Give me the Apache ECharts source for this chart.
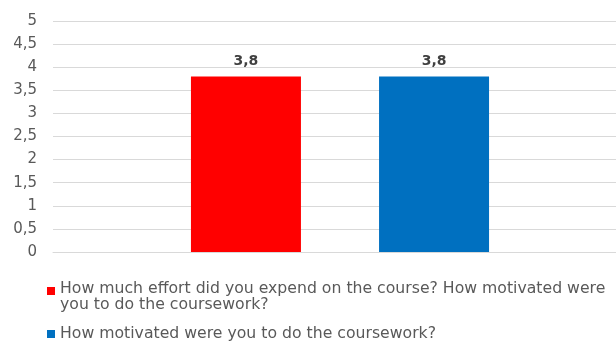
<!DOCTYPE html>
<html>
<head>
<meta charset="utf-8">
<script src="https://cdn.jsdelivr.net/npm/echarts@6/dist/echarts.min.js"></script>
<style>
html,body{margin:0;padding:0;background:#fff;overflow:hidden;width:616px;height:344px;}
#chart{width:627px;height:344px;}
</style>
</head>
<body>
<div id="chart"></div>
<script>
const categories = [''];
const seriesNames = [
  'How much effort did you expend on the course? How motivated were you to do the coursework?',
  'How motivated were you to do the coursework?'
];
const legendLabels = [
  'How much effort did you expend on the course? How motivated were\nyou to do the coursework?',
  'How motivated were you to do the coursework?'
];
const effortValues = [3.8];
const motivationValues = [3.8];
const yTicks = { min: 0, max: 5, interval: 0.5 };

const FONT = 'DejaVu Sans';
const comma = v => String(v).replace('.', ',');
const legendText = { color: '#595959', fontFamily: FONT, fontSize: 15.7, lineHeight: 16 };

const chart = echarts.init(document.getElementById('chart'), null, { renderer: 'canvas' });
chart.setOption({
  animation: false,
  backgroundColor: '#ffffff',
  grid: { left: 53, top: 21, right: 0, bottom: 92, containLabel: false },
  xAxis: {
    type: 'category',
    data: categories,
    axisLine: { show: true, lineStyle: { color: '#d9d9d9', width: 1 } },
    axisTick: { show: false },
    axisLabel: { show: false }
  },
  yAxis: {
    type: 'value',
    min: yTicks.min,
    max: yTicks.max,
    interval: yTicks.interval,
    axisLine: { show: false },
    axisTick: { show: false },
    splitLine: { lineStyle: { color: '#d9d9d9', width: 1 } },
    axisLabel: {
      margin: 16,
      color: '#595959',
      fontFamily: FONT,
      fontSize: 15,
      formatter: v => comma(v)
    }
  },
  legend: [
    {
      orient: 'vertical',
      left: 47,
      top: 281,
      padding: 0,
      itemWidth: 8,
      itemHeight: 32,
      textStyle: legendText,
      formatter: name => legendLabels[seriesNames.indexOf(name)],
      data: [{ name: seriesNames[0], icon: 'path://M0,6L8,6L8,14L0,14Z M0,0L0.01,0 M0,32L0.01,32' }]
    },
    {
      orient: 'vertical',
      left: 47,
      top: 326,
      padding: 0,
      itemWidth: 8,
      itemHeight: 8,
      textStyle: legendText,
      formatter: name => legendLabels[seriesNames.indexOf(name)],
      data: [{ name: seriesNames[1], icon: 'rect' }]
    }
  ],
  series: [
    {
      name: seriesNames[0],
      type: 'bar',
      data: effortValues,
      barWidth: 110,
      barGap: '71%',
      itemStyle: { color: '#ff0000' },
      label: {
        show: true, position: 'top', distance: 8,
        color: '#404040', fontFamily: FONT, fontSize: 14, fontWeight: 'bold',
        formatter: p => comma(p.value)
      }
    },
    {
      name: seriesNames[1],
      type: 'bar',
      data: motivationValues,
      barWidth: 110,
      barGap: '71%',
      itemStyle: { color: '#0070c0' },
      label: {
        show: true, position: 'top', distance: 8,
        color: '#404040', fontFamily: FONT, fontSize: 14, fontWeight: 'bold',
        formatter: p => comma(p.value)
      }
    }
  ]
});
</script>
</body>
</html>
